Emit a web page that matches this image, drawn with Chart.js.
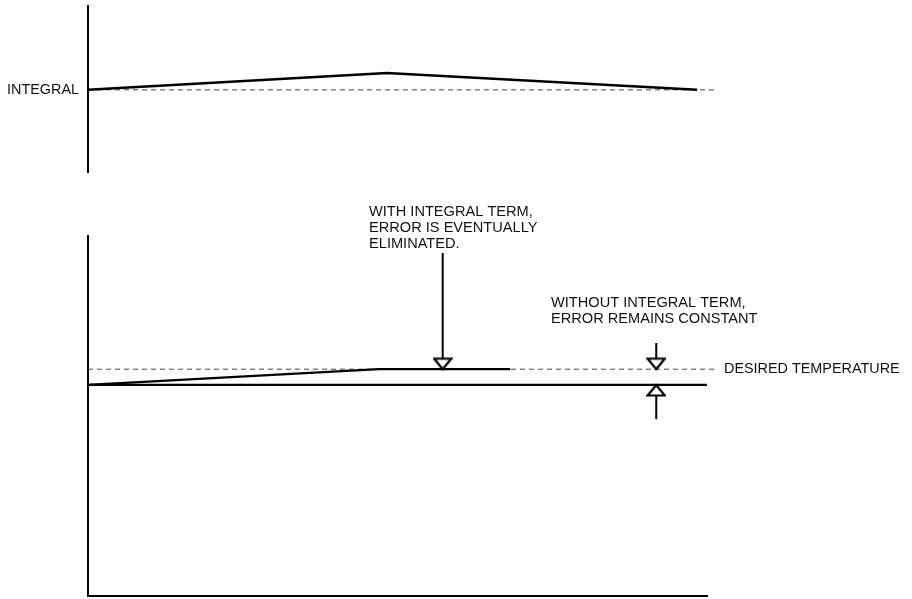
<!DOCTYPE html>
<html>
<head>
<meta charset="utf-8">
<title>Integral term</title>
<script src="https://cdn.jsdelivr.net/npm/chart.js@4.4.1/dist/chart.umd.min.js"></script>
<style>
  html, body { margin: 0; padding: 0; background: #fff; }
  #wrap { position: relative; width: 912px; height: 599px; }
  #wrap canvas { position: absolute; left: 0; top: 0; }
</style>
</head>
<body>
<div id="wrap">
  <canvas id="integralChart" width="912" height="599"></canvas>
  <canvas id="tempChart" width="912" height="599"></canvas>
</div>
<script>
// time runs 0..10 (arbitrary units) in both panels
const integralX = [0, 4.83, 9.84];
const integralY = [0, 0.2, 0];
const integralRefX = [0, 10.12];
const integralLabel = 'INTEGRAL';

// temperature panel
const setpoint = 50.4;
const steadyNoIntegral = 46.9;
const withIntegralX = [0, 4.7, 6.82];
const withIntegralY = [46.9, 50.4, 50.4];
const withoutIntegralX = [0, 10];
const desiredX = [0, 10.13];
const desiredLabel = 'DESIRED TEMPERATURE';

// arrows: x position and the far end of the shaft
const arrowEliminatedX = 5.73;
const arrowEliminatedTop = 76.2;
const arrowConstantX = 9.18;
const arrowConstantTop = 56.2;
const arrowConstantBottom = 39.3;

const noteEliminated = ['WITH INTEGRAL TERM,', 'ERROR IS EVENTUALLY', 'ELIMINATED.'];
const noteConstant = ['WITHOUT INTEGRAL TERM,', 'ERROR REMAINS CONSTANT'];

const FONT = "'Liberation Sans', Arial, sans-serif";
Chart.defaults.font.family = FONT;

function pts(xs, ys) {
    return xs.map((x, i) => ({ x: x, y: ys[i] }));
}

// open arrow head, tip sits at the centre of the little canvas
function arrowHead(dir) {
    const w = 20, h = 12;
    const c = document.createElement('canvas');
    c.width = w; c.height = h * 2;
    const g = c.getContext('2d');
    g.lineWidth = 2.2;
    g.strokeStyle = '#000';
    g.fillStyle = '#fff';
    g.beginPath();
    if (dir === 'down') {
        g.moveTo(1.5, 1.5); g.lineTo(w - 1.5, 1.5); g.lineTo(w / 2, h);
    } else {
        g.moveTo(w / 2, h); g.lineTo(w - 1.5, h * 2 - 1.5); g.lineTo(1.5, h * 2 - 1.5);
    }
    g.closePath();
    g.fill();
    g.stroke();
    return c;
}

// the single tick label would otherwise push the chart area in
function noLabelPadding(s) {
    s.paddingTop = 0;
    s.paddingBottom = 0;
}

const solid = { borderColor: '#000', borderWidth: 2.3, pointRadius: 0, tension: 0, borderJoinStyle: 'round' };
const dashed = { borderColor: '#444', borderWidth: 1, borderDash: [5, 4], pointRadius: 0, clip: false };
const shaft = { borderColor: '#000', borderWidth: 2, pointRadius: 0 };

const notesPlugin = {
    id: 'notes',
    afterDatasetsDraw(chart, args, opts) {
        const ctx = chart.ctx;
        const xs = chart.scales.x, ys = chart.scales.y;
        ctx.save();
        ctx.fillStyle = '#111';
        ctx.font = '14.6px ' + FONT;
        ctx.textBaseline = 'alphabetic';
        opts.items.forEach(n => {
            n.lines.forEach((t, i) => {
                ctx.fillText(t, xs.getPixelForValue(n.x), ys.getPixelForValue(n.y) + i * opts.lineHeight);
            });
        });
        ctx.restore();
    }
};

new Chart(document.getElementById('integralChart'), {
    type: 'line',
    data: {
        datasets: [
            Object.assign({ data: pts(integralX, integralY) }, solid, { borderWidth: 2.5 }),
            Object.assign({ data: pts(integralRefX, [0, 0]) }, dashed)
        ]
    },
    options: {
        responsive: false,
        animation: false,
        events: [],
        layout: { autoPadding: false, padding: { left: 8, top: 6, right: 205, bottom: 427 } },
        plugins: { legend: { display: false }, tooltip: { enabled: false } },
        scales: {
            x: { type: 'linear', min: 0, max: 10, display: false },
            y: {
                min: -0.98, max: 1,
                grid: { display: false, drawTicks: false },
                border: { display: true, color: '#000', width: 2 },
                afterBuildTicks: s => { s.ticks = [{ value: 0 }]; },
                afterFit: s => { s.width = 80; noLabelPadding(s); },
                ticks: { callback: () => integralLabel, padding: 9, color: '#111', font: { size: 14.4 } }
            }
        }
    }
});

new Chart(document.getElementById('tempChart'), {
    type: 'line',
    data: {
        datasets: [
            { data: [{ x: arrowEliminatedX, y: setpoint }], showLine: false, pointStyle: arrowHead('down'), pointRadius: 6 },
            { data: [{ x: arrowConstantX, y: setpoint }], showLine: false, pointStyle: arrowHead('down'), pointRadius: 6 },
            { data: [{ x: arrowConstantX, y: steadyNoIntegral }], showLine: false, pointStyle: arrowHead('up'), pointRadius: 6 },
            Object.assign({ data: pts([arrowEliminatedX, arrowEliminatedX], [arrowEliminatedTop, setpoint]) }, shaft),
            Object.assign({ data: pts([arrowConstantX, arrowConstantX], [arrowConstantTop, setpoint]) }, shaft),
            Object.assign({ data: pts([arrowConstantX, arrowConstantX], [arrowConstantBottom, steadyNoIntegral]) }, shaft),
            Object.assign({ data: pts(withIntegralX, withIntegralY) }, solid),
            Object.assign({ data: pts(withoutIntegralX, [steadyNoIntegral, steadyNoIntegral]) }, solid),
            Object.assign({ data: pts(desiredX, [setpoint, setpoint]) }, dashed)
        ]
    },
    options: {
        responsive: false,
        animation: false,
        events: [],
        layout: { autoPadding: false, padding: { left: 88, top: 236, right: 0, bottom: 3 } },
        plugins: {
            legend: { display: false },
            tooltip: { enabled: false },
            notes: {
                lineHeight: 16,
                items: [
                    { x: 4.54, y: 84.4, lines: noteEliminated },
                    { x: 7.48, y: 64.2, lines: noteConstant }
                ]
            }
        },
        scales: {
            x: {
                type: 'linear', min: 0, max: 10,
                grid: { display: false, drawTicks: false },
                border: { display: true, color: '#000', width: 2 },
                ticks: { display: false },
                afterFit: s => { s.height = 0; s.paddingLeft = 0; s.paddingRight = 0; }
            },
            y: {
                min: 0, max: 80,
                grid: { display: false, drawTicks: false },
                border: { display: true, color: '#000', width: 2 },
                ticks: { display: false },
                afterFit: s => { s.width = 0; noLabelPadding(s); }
            },
            y2: {
                position: 'right',
                min: 0, max: 80,
                grid: { display: false, drawTicks: false },
                border: { display: false },
                afterBuildTicks: s => { s.ticks = [{ value: setpoint }]; },
                afterFit: s => { s.width = 205; noLabelPadding(s); },
                ticks: { callback: () => desiredLabel, padding: 17, color: '#111', font: { size: 14.4 } }
            }
        }
    },
    plugins: [notesPlugin]
});
</script>
</body>
</html>
